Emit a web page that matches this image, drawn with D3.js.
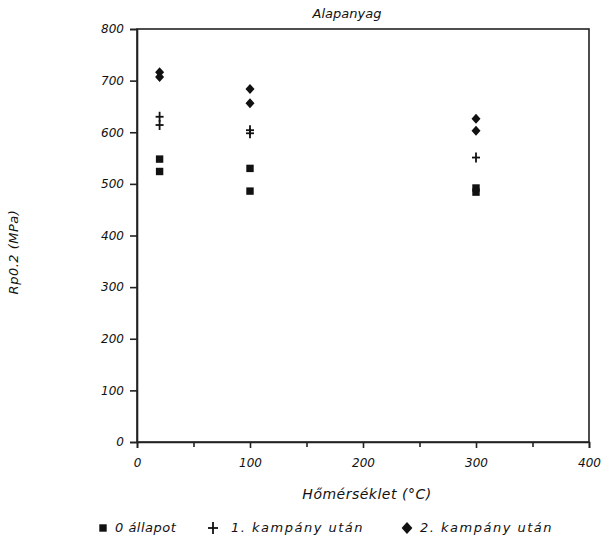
<!DOCTYPE html>
<html>
<head>
<meta charset="utf-8">
<title>Alapanyag</title>
<script src="https://cdn.jsdelivr.net/npm/d3@7"></script>
<style>
  body { margin: 0; background: #fff; }
  text { font-family: "DejaVu Sans", sans-serif; font-style: italic; fill: #111; }
</style>
</head>
<body>
<script>
// values
var allapot0 = [[20, 548], [20, 524], [100, 530], [100, 486], [300, 492], [300, 484]];
var kampany1 = [[20, 630], [20, 614], [100, 604], [100, 598], [300, 551]];
var kampany2 = [[20, 716], [20, 707], [100, 684], [100, 656], [300, 626], [300, 603]];
var xTicks = [0, 100, 200, 300, 400];
var xMinor = [50, 150, 250, 350];
var yTicks = [0, 100, 200, 300, 400, 500, 600, 700, 800];
var legendNames = ["0 állapot", "1. kampány után", "2. kampány után"];

var margin = {top: 29, right: 12, bottom: 100, left: 137},
    width = 601 - margin.left - margin.right,
    height = 542 - margin.top - margin.bottom;

var x = d3.scaleLinear().domain([0, 400]).range([0, width]);
var y = d3.scaleLinear().domain([0, 800]).range([height, 0]);

var svg = d3.select("body").append("svg")
    .attr("width", 601)
    .attr("height", 542);
var g = svg.append("g")
    .attr("transform", "translate(" + margin.left + "," + margin.top + ")");

// box
g.append("rect")
  .attr("width", width).attr("height", height)
  .attr("fill", "none").attr("stroke", "#222").attr("stroke-width", 1.6);

g.append("g")
  .attr("transform", "translate(0," + height + ")")
  .call(d3.axisBottom(x).tickValues(xTicks).tickSize(6).tickPadding(10));
g.append("g")
  .attr("transform", "translate(0," + height + ")")
  .call(d3.axisBottom(x).tickValues(xMinor).tickSize(5).tickFormat(""))
  .select(".domain").remove();
g.append("g")
  .call(d3.axisLeft(y).tickValues(yTicks).tickSize(7).tickPadding(6));

g.selectAll(".domain").attr("stroke", "#222").attr("stroke-width", 1.6);
g.selectAll(".tick line").attr("stroke", "#222").attr("stroke-width", 1.6);
g.selectAll(".tick text").style("font-size", "12px").attr("fill", "#111");

// markers
var sq = d3.symbol().type(d3.symbolSquare).size(55);
var dm = "M0,-5L4.5,0L0,5L-4.5,0Z";

function plus(sel, w, h) {
  sel.append("line").attr("x1", -w).attr("x2", w).attr("stroke", "#111").attr("stroke-width", 1.8);
  sel.append("line").attr("y1", -h).attr("y2", h).attr("stroke", "#111").attr("stroke-width", 1.8);
}

g.selectAll(".s0").data(allapot0).enter().append("path")
  .attr("d", sq)
  .attr("transform", function(d) { return "translate(" + x(d[0]) + "," + y(d[1]) + ")"; })
  .attr("fill", "#111");

g.selectAll(".s1").data(kampany1).enter().append("g")
  .attr("transform", function(d) { return "translate(" + x(d[0]) + "," + y(d[1]) + ")"; })
  .each(function() { plus(d3.select(this), 4, 5); });

g.selectAll(".s2").data(kampany2).enter().append("path")
  .attr("d", dm)
  .attr("transform", function(d) { return "translate(" + x(d[0]) + "," + y(d[1]) + ")"; })
  .attr("fill", "#111");

// titles
svg.append("text")
  .attr("x", 347).attr("y", 18)
  .attr("text-anchor", "middle")
  .style("font-size", "13px")
  .text("Alapanyag");

svg.append("text")
  .attr("transform", "translate(18,252) rotate(-90)")
  .attr("text-anchor", "middle")
  .style("font-size", "13px")
  .style("letter-spacing", "0.5px")
  .text("Rp0.2   (MPa)");

svg.append("text")
  .attr("x", 367).attr("y", 499)
  .attr("text-anchor", "middle")
  .style("font-size", "14px")
  .style("letter-spacing", "0.5px")
  .text("Hőmérséklet (°C)");

// legend
var legX = [103, 213, 407];
var legT = [115, 231, 420];
var leg = svg.append("g").attr("transform", "translate(0,532)");
leg.append("path").attr("d", sq).attr("transform", "translate(" + legX[0] + ",-4)").attr("fill", "#111");
plus(leg.append("g").attr("transform", "translate(" + legX[1] + ",-4)"), 5, 6);
leg.append("path").attr("d", dm).attr("transform", "translate(" + legX[2] + ",-4) scale(1.2)").attr("fill", "#111");
leg.selectAll(".lt").data(legendNames).enter().append("text")
  .attr("x", function(d, i) { return legT[i]; })
  .attr("y", 0)
  .style("font-size", "13px")
  .style("letter-spacing", function(d, i) { return i === 0 ? "0.5px" : "1.5px"; })
  .text(function(d) { return d; });
</script>
</body>
</html>
